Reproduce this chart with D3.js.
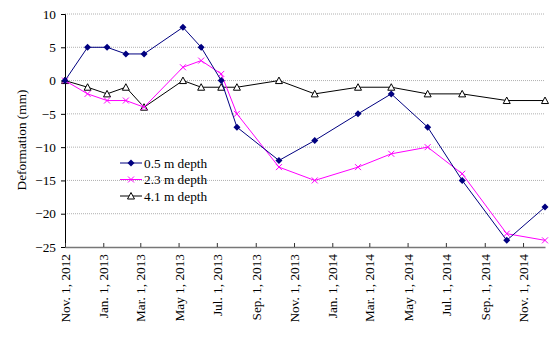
<!DOCTYPE html>
<html>
<head>
<meta charset="utf-8">
<script src="https://cdn.jsdelivr.net/npm/d3@7"></script>
<style>
  body { margin: 0; background: #fff; }
  text { font-family: "Liberation Serif", "DejaVu Serif", serif; }
</style>
</head>
<body>
<div id="chart"></div>
<script>
// survey dates shared by all three depths
const dates = ["2012-11-01", "2012-12-07", "2013-01-07", "2013-02-06", "2013-03-07",
    "2013-05-08", "2013-06-06", "2013-07-08", "2013-08-02", "2013-10-08", "2013-12-04",
    "2014-02-11", "2014-04-05", "2014-06-02", "2014-07-27", "2014-10-06", "2014-12-06"];

const depth05 = [0, 5, 5, 4, 4, 8, 5, 0, -7, -12, -9, -5, -2, -7, -15, -24, -19];
const depth23 = [0, -2, -3, -3, -4, 2, 3, 1, -5, -13, -15, -13, -11, -10, -14, -23, -24];
const depth41 = [0, -1, -2, -1, -4, 0, -1, -1, -1, 0, -2, -1, -1, -2, -2, -3, -3];

const seriesNames = ["0.5 m depth", "2.3 m depth", "4.1 m depth"];
const yTicks = [10, 5, 0, -5, -10, -15, -20, -25];
const tickDates = ["2012-11-01", "2013-01-01", "2013-03-01", "2013-05-01", "2013-07-01",
    "2013-09-01", "2013-11-01", "2014-01-01", "2014-03-01", "2014-05-01", "2014-07-01",
    "2014-09-01", "2014-11-01"];

const width = 560, height = 337;
const margin = {top: 14, right: 15, bottom: 90, left: 65};
const fontSize = "13.3px";
const parse = d3.timeParse("%Y-%m-%d");
const fmtTick = d => {
    const m = d3.timeFormat("%b")(d);
    const mon = m === "May" ? "May" : m + ".";
    return mon + " " + d.getDate() + ", " + d.getFullYear();
};

const svg = d3.select("#chart").append("svg")
    .attr("width", width)
    .attr("height", height);

const x = d3.scaleTime()
    .domain([parse("2012-11-01"), parse("2014-12-06")])
    .range([margin.left, width - margin.right]);

const y = d3.scaleLinear()
    .domain([-25, 10])
    .range([height - margin.bottom, margin.top]);

// grid lines
svg.append("g")
    .selectAll("line")
    .data(yTicks.filter(d => d > -25))
    .enter()
    .append("line")
    .attr("x1", margin.left)
    .attr("x2", width - margin.right)
    .attr("y1", d => y(d))
    .attr("y2", d => y(d))
    .attr("stroke", "#b0b0b0")
    .attr("stroke-width", 1)
    .attr("stroke-dasharray", "1,1");

// y axis
const yAxis = svg.append("g")
    .attr("transform", "translate(" + margin.left + ",0)")
    .call(d3.axisLeft(y).tickValues(yTicks).tickSize(4).tickPadding(5)
        .tickFormat(d => d < 0 ? "\u2212" + Math.abs(d) : d));
yAxis.select(".domain").attr("stroke", "#000");
yAxis.selectAll("text").style("font-size", fontSize).attr("fill", "#000");

// x axis
const xAxis = svg.append("g")
    .attr("transform", "translate(0," + (height - margin.bottom) + ")")
    .call(d3.axisBottom(x).tickValues(tickDates.map(parse)).tickSize(-4).tickSizeOuter(0)
        .tickFormat(fmtTick));
xAxis.select(".domain").attr("stroke", "#777").attr("stroke-width", 1.6);
xAxis.selectAll(".tick line").attr("stroke", "#333");
xAxis.selectAll("text")
    .style("font-size", fontSize)
    .attr("fill", "#000")
    .attr("transform", "rotate(-90)")
    .attr("text-anchor", "end")
    .attr("x", -7)
    .attr("y", 0)
    .attr("dy", "0.35em");

// y axis title
svg.append("text")
    .attr("transform", "translate(26," + 140 + ") rotate(-90)")
    .attr("text-anchor", "middle")
    .style("font-size", fontSize)
    .text("Deformation (mm)");

const series = [
    {name: seriesNames[0], values: depth05, color: "#000080", marker: "diamond"},
    {name: seriesNames[1], values: depth23, color: "#ff00ff", marker: "cross"},
    {name: seriesNames[2], values: depth41, color: "#000000", marker: "triangle"}
];

function drawMarker(g, type, color) {
    if (type === "diamond") {
        g.append("path")
            .attr("d", "M0,-3.5L3.5,0L0,3.5L-3.5,0Z")
            .attr("fill", color);
    } else if (type === "cross") {
        g.append("path")
            .attr("d", "M-3,-3L3,3M-3,3L3,-3")
            .attr("stroke", color)
            .attr("stroke-width", 1);
    } else {
        g.append("path")
            .attr("d", "M0,-3.5L3.5,3L-3.5,3Z")
            .attr("fill", "#fff")
            .attr("stroke", color)
            .attr("stroke-width", 1);
    }
}

const line = d3.line()
    .x(d => x(d.date))
    .y(d => y(d.value));

series.slice().reverse().forEach(function (s) {
    const pts = s.values.map((v, i) => ({date: parse(dates[i]), value: v}));
    svg.append("path")
        .datum(pts)
        .attr("d", line)
        .attr("fill", "none")
        .attr("stroke", s.color)
        .attr("stroke-width", 1);
    pts.forEach(function (p) {
        const g = svg.append("g")
            .attr("transform", "translate(" + x(p.date) + "," + y(p.value) + ")");
        drawMarker(g, s.marker, s.color);
    });
});

// legend
const legend = svg.append("g").attr("transform", "translate(120,163)");
series.forEach(function (s, i) {
    const row = legend.append("g").attr("transform", "translate(0," + (i * 16.5) + ")");
    row.append("line")
        .attr("x1", 0).attr("x2", 22)
        .attr("stroke", s.color)
        .attr("stroke-width", 1);
    drawMarker(row.append("g").attr("transform", "translate(11,0)"), s.marker, s.color);
    row.append("text")
        .attr("x", 24)
        .attr("dy", "0.35em")
        .style("font-size", fontSize)
        .text(s.name);
});
</script>
</body>
</html>
